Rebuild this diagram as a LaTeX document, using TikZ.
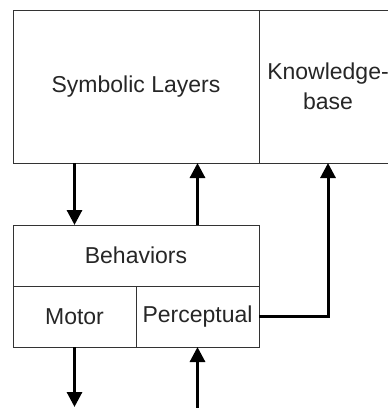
\documentclass[tikz,border=0pt]{standalone}
\usepackage{fontspec}
\setmainfont{Liberation Sans}
\usetikzlibrary{arrows.meta}

\begin{document}
\begin{tikzpicture}[x=1pt,y=-1pt,
  block/.style={draw=black!80,line width=1pt,rectangle,inner sep=0pt,outer sep=0pt,
    align=center,text=black!85,font=\fontsize{23}{30}\selectfont},
  link/.style={line width=3pt,-{Triangle[width=15pt,length=15pt]}}]
  \clip (0,0) rectangle (388,408);
  % upper layer
  \node[block,minimum width=246pt,minimum height=153pt] (symb) at (136,86.5) {Symbolic Layers};
  \node[block,minimum width=138pt,minimum height=153pt,anchor=west] (kb) at (symb.east) {Knowledge-\\base};
  % behavior layer
  \node[block,minimum width=246pt,minimum height=61pt] (beh) at (136,255.5) {Behaviors};
  \node[block,minimum width=123pt,minimum height=61pt,anchor=north west] (motor) at (beh.south west) {Motor};
  \node[block,minimum width=123pt,minimum height=61pt,anchor=north east] (perc) at (beh.south east) {Perceptual};
  \coordinate (out) at (motor.center |- 0,407);
  \coordinate (in) at (perc.center |- 0,408);
  % connectors
  \draw[link] (symb.south -| motor.center) -- (beh.north -| motor.center);
  \draw[link] (beh.north -| perc.center) -- (symb.south -| perc.center);
  \draw[link] (perc.east) -| (kb.south);
  \draw[link] (motor.south) -- (out);
  \draw[link] (in) -- (perc.south);
\end{tikzpicture}
\end{document}
